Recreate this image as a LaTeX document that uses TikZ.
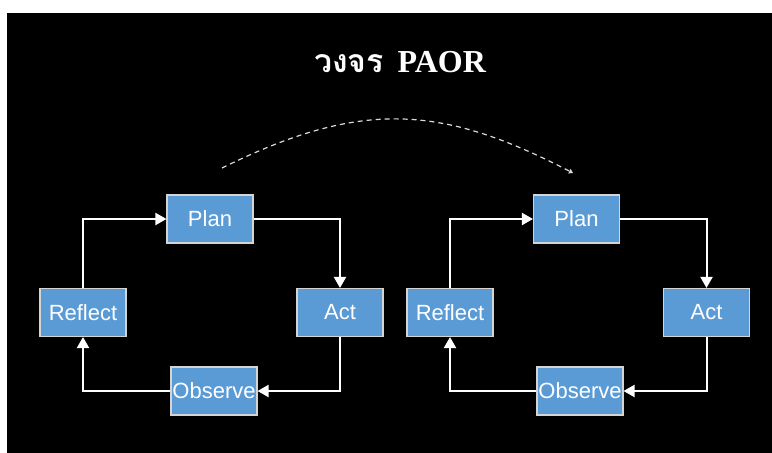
\documentclass[tikz,border=0pt]{standalone}
\usepackage{fontspec}
\setmainfont{Liberation Serif}
\newfontfamily\thaifont[Script=Thai]{Loma}
\newfontfamily\boxfont{Liberation Sans}
\usetikzlibrary{arrows.meta}
\definecolor{paorblue}{HTML}{5B9BD5}
\definecolor{paoredge}{HTML}{D4D4D4}
\tikzset{
  paorbox/.style={draw=paoredge,line width=1.1pt,fill=paorblue,text=white,
    minimum width=86pt,minimum height=48pt,inner sep=0pt,
    font=\boxfont\fontsize{22}{25}\selectfont},
  paorarrow/.style={draw=white,line width=2pt,
    -{Triangle[width=12pt,length=11pt]}},
  paordash/.style={draw=white!85!black,line width=1.2pt,dash pattern=on 5pt off 4pt,
    -{Triangle[width=5pt,length=4pt]}}
}
\begin{document}
\begin{tikzpicture}[x=1pt,y=-1pt]
    %initialisation
    \fill[white] (0,0) rectangle (772,453);
    \fill[black] (7,13) rectangle (772,453);
    \useasboundingbox (0,0) rectangle (772,453);
    %title
    \node[text=white,font=\fontsize{32}{36}\selectfont\bfseries] (title) at (400,62)
        {{\thaifont วงจร}\hspace{14pt}PAOR};
    %definitions (first cycle)
    \node[paorbox] (planA)    at (210,219)   {Plan};
    \node[paorbox] (actA)     at (340,312.5) {Act};
    \node[paorbox] (observeA) at (214,391)   {Observe};
    \node[paorbox] (reflectA) at (83,312.5)  {Reflect};
    %definitions (second cycle)
    \node[paorbox] (planB)    at (576.5,219) {Plan};
    \node[paorbox] (actB)     at (706.5,312.5) {Act};
    \node[paorbox] (observeB) at (580,391)   {Observe};
    \node[paorbox] (reflectB) at (450,312.5) {Reflect};
    %drawing
    \draw[paorarrow] (reflectA.north) |- (planA.west);
    \draw[paorarrow] (planA.east) -| (actA.north);
    \draw[paorarrow] (actA.south) |- (observeA.east);
    \draw[paorarrow] (observeA.west) -| (reflectA.south);
    \draw[paorarrow] (reflectB.north) |- (planB.west);
    \draw[paorarrow] (planB.east) -| (actB.north);
    \draw[paorarrow] (actB.south) |- (observeB.east);
    \draw[paorarrow] (observeB.west) -| (reflectB.south);
    %\draw[paorarrow] (observeA) -- (reflectB);
    \coordinate (jumpstart) at (222,168);
    \coordinate (jumpend) at (573,173);
    \draw[paordash] (jumpstart) .. controls (360,100) and (440,104) .. (jumpend);
\end{tikzpicture}
\end{document}
